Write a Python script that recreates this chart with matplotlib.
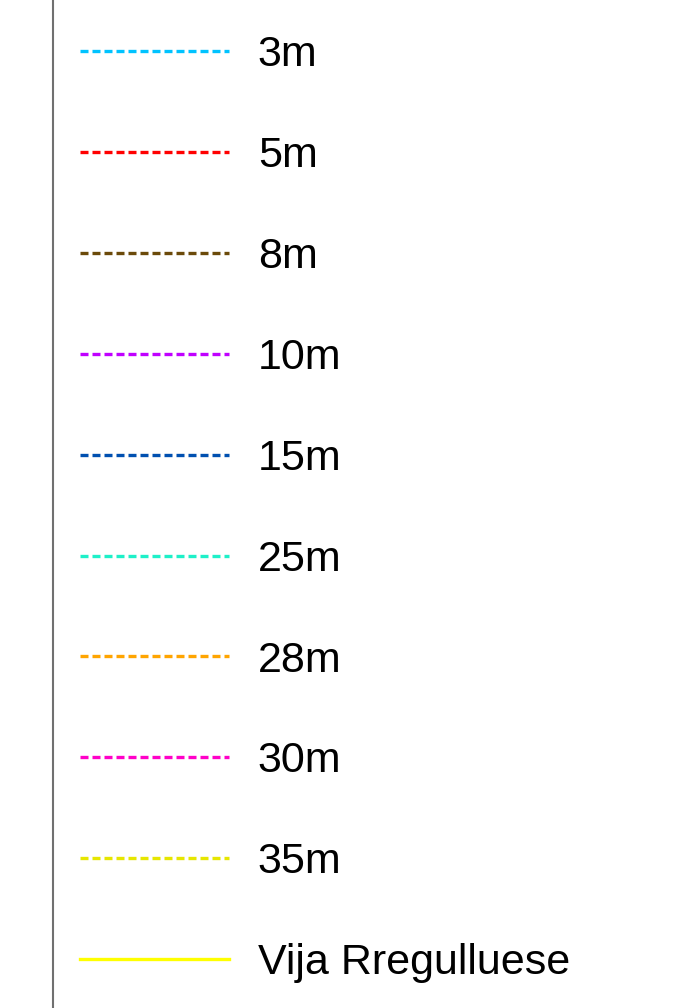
import matplotlib.pyplot as plt
from matplotlib.lines import Line2D

plt.rcParams['font.family'] = ['Liberation Sans', 'DejaVu Sans']

# legend entries
labels = ["3m", "5m", "8m", "10m", "15m", "25m", "28m", "30m", "35m", "Vija Rregulluese"]
colors = ["#00C3FF", "#FF0000", "#6B4A0A", "#C000FF", "#0050B0",
          "#1EF0C8", "#FFA500", "#FF00C8", "#E6E600", "#FFFF00"]
styles = ["dashed"] * 9 + ["solid"]

fig = plt.figure(figsize=(6.75, 10.08), dpi=100)

# left plot area: only its right border is visible
ax = fig.add_axes([-0.5, 0, 0.5 + 53 / 675, 1])
for side in ["top", "bottom", "left"]:
    ax.spines[side].set_visible(False)
ax.spines["right"].set_color("#707070")
ax.spines["right"].set_linewidth(1.5)
ax.set_xticks([])
ax.set_yticks([])

handles = []
for c, s in zip(colors, styles):
    ls = (0, (2.4, 1.2)) if s == "dashed" else "-"
    handles.append(Line2D([], [], color=c, lw=2.4, linestyle=ls))

fig.legend(handles, labels, loc="upper left",
           bbox_to_anchor=(80 / 675, 1 - 35 / 1008),
           frameon=False, fontsize=31, borderpad=0, borderaxespad=0,
           handlelength=3.45, handletextpad=0.68, labelspacing=1.415)

fig.savefig("out.png", dpi=100, facecolor="white")
